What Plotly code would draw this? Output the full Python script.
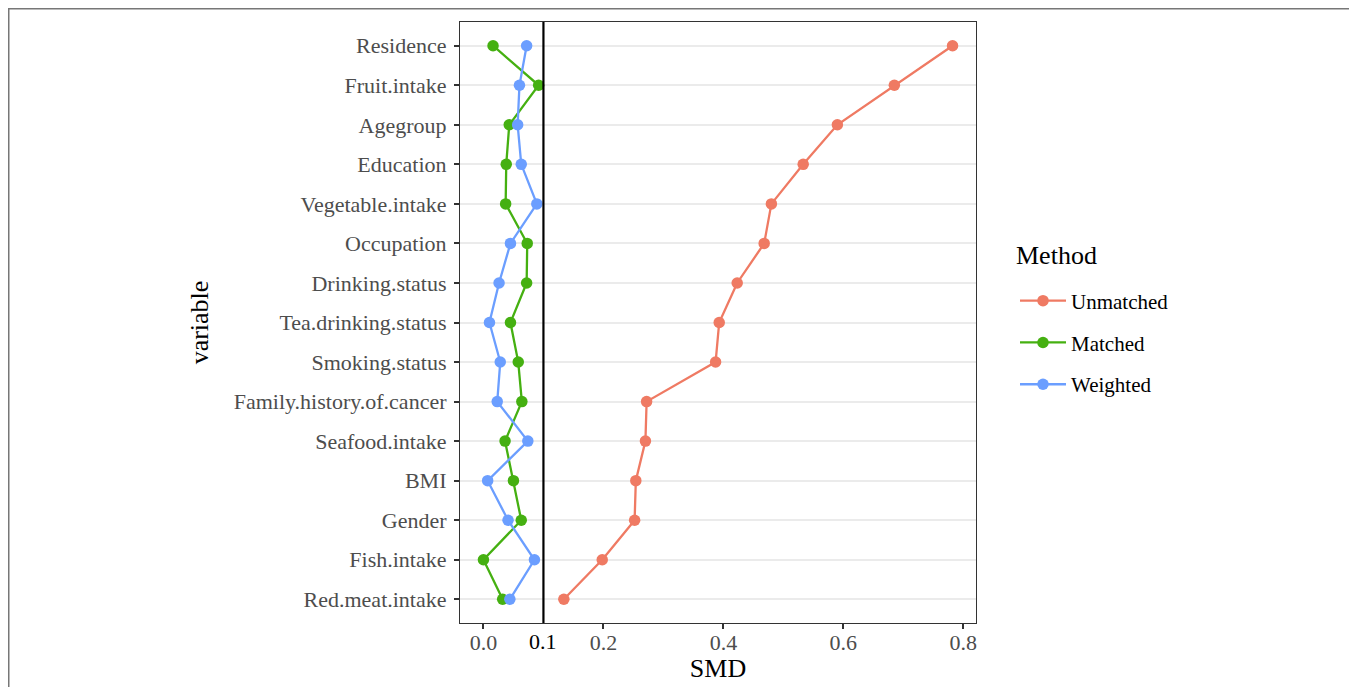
import plotly.graph_objects as go

variables = ["Residence", "Fruit.intake", "Agegroup", "Education", "Vegetable.intake",
             "Occupation", "Drinking.status", "Tea.drinking.status", "Smoking.status",
             "Family.history.of.cancer", "Seafood.intake", "BMI", "Gender",
             "Fish.intake", "Red.meat.intake"]

unmatched = [0.782, 0.685, 0.590, 0.533, 0.480, 0.468, 0.423, 0.393, 0.387,
             0.272, 0.270, 0.254, 0.252, 0.198, 0.134]
matched = [0.016, 0.092, 0.043, 0.038, 0.037, 0.073, 0.072, 0.045, 0.058,
           0.064, 0.036, 0.050, 0.063, 0.000, 0.032]
weighted = [0.072, 0.060, 0.057, 0.063, 0.089, 0.045, 0.026, 0.010, 0.028,
            0.023, 0.074, 0.007, 0.041, 0.085, 0.044]

methods = ["Unmatched", "Matched", "Weighted"]
colors = ["#EF7A63", "#45B011", "#6B9EFF"]
series = [unmatched, matched, weighted]

x_ticks = [0.0, 0.2, 0.4, 0.6, 0.8]
threshold = 0.1

FONT = "Liberation Serif, Times New Roman, serif"

fig = go.Figure()
for name, col, vals in zip(methods, colors, series):
    fig.add_trace(go.Scatter(
        x=vals, y=variables, mode="lines+markers", name=name,
        legendgroup=name,
        line=dict(color=col, width=2.3),
        marker=dict(color=col, size=11.5),
    ))

dmin, dmax = min(min(s) for s in series), max(max(s) for s in series)
pad = 0.05 * (dmax - dmin)

# page has an 8px body margin; figure sized to fit
W, H = 1349, 679
L, R, T, B = 452, 381, 14, 64
pw, ph = W - L - R, H - T - B


def px2paper_x(px):
    return (px - L) / pw


def px2paper_y(py):
    return (H - B - py) / ph


fig.add_shape(type="line", xref="x", yref="paper", x0=threshold, x1=threshold,
              y0=0, y1=1, line=dict(color="black", width=2.2))

# outer frame (left, top, right)
fig.add_shape(type="path", xref="paper", yref="paper",
              path=f"M {px2paper_x(0.75)} {px2paper_y(700)} L {px2paper_x(0.75)} {px2paper_y(0.75)} "
                   f"L {px2paper_x(1346)} {px2paper_y(0.75)} L {px2paper_x(1346)} {px2paper_y(700)}",
              line=dict(color="#777777", width=1.5))

fig.add_annotation(x=threshold, xref="x", y=0, yref="paper", yshift=-4,
                   text="0.1", showarrow=False, yanchor="top",
                   font=dict(family=FONT, size=22, color="black"))

fig.add_annotation(x=px2paper_x(1006), xref="paper", y=px2paper_y(247), yref="paper",
                   text="Method", showarrow=False, xanchor="left", yanchor="middle",
                   font=dict(family=FONT, size=26, color="black"))

fig.update_layout(
    width=W, height=H,
    margin=dict(l=L, r=R, t=T, b=B, autoexpand=False),
    paper_bgcolor="white", plot_bgcolor="white",
    font=dict(family=FONT),
    xaxis=dict(
        range=[dmin - pad, dmax + pad],
        tickvals=x_ticks, ticktext=[f"{v:.1f}" for v in x_ticks],
        showgrid=False, zeroline=False, automargin=False,
        ticks="outside", ticklen=5, tickwidth=1.5, tickcolor="#333333",
        tickfont=dict(family=FONT, size=22, color="#4D4D4D"),
        ticklabelstandoff=-6,
        showline=True, linecolor="#333333", linewidth=1.2, mirror=True,
        title=dict(text="SMD", font=dict(family=FONT, size=26, color="black"), standoff=5),
    ),
    yaxis=dict(
        type="category",
        categoryorder="array", categoryarray=variables[::-1],
        range=[-0.6, len(variables) - 0.4],
        showgrid=True, gridcolor="#EBEBEB", gridwidth=1.5,
        zeroline=False, automargin=False,
        ticks="outside", ticklen=5, tickwidth=1.5, tickcolor="#333333",
        tickfont=dict(family=FONT, size=22, color="#4D4D4D"),
        ticklabelstandoff=3,
        showline=True, linecolor="#333333", linewidth=1.2, mirror=True,
        title=dict(text="variable", font=dict(family=FONT, size=26, color="black"), standoff=17),
    ),
    legend=dict(
        x=px2paper_x(1007), xanchor="left", y=px2paper_y(334.5), yanchor="middle",
        font=dict(family=FONT, size=21, color="black"),
        tracegroupgap=11.5, itemwidth=46,
    ),
    showlegend=True,
)

fig.write_html("out.html")
